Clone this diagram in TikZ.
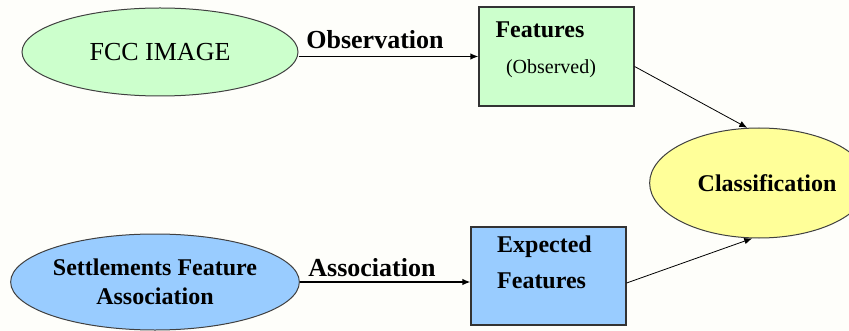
\documentclass[tikz,border=0pt]{standalone}
\usepackage{fontspec}
\setmainfont{LiberationSerif}[Extension=.ttf,UprightFont=*-Regular,BoldFont=*-Bold,ItalicFont=*-Italic,BoldItalicFont=*-BoldItalic]
\usetikzlibrary{shapes.geometric,arrows.meta}
\definecolor{bgcol}{RGB}{254,254,250}
\definecolor{greenfill}{RGB}{204,255,204}
\definecolor{bluefill}{RGB}{153,204,255}
\definecolor{yellowfill}{RGB}{255,255,153}

\begin{document}
\begin{tikzpicture}[x=0.5pt,y=-0.5pt,
	oval/.style={ellipse,draw=black!75,line width=0.5pt,inner sep=0pt,align=center},
	box/.style={rectangle,draw=black!80,line width=0.6pt,inner sep=0pt,minimum width=77.5pt,minimum height=49.5pt},
	lbl/.style={inner sep=0pt,font=\fontsize{13}{15}\selectfont\bfseries},
	txt/.style={inner sep=0pt,font=\fontsize{12}{14}\selectfont\bfseries},
	arr/.style={-{Latex[length=4pt,width=3.2pt]},line width=0.6pt},
	thin arr/.style={-{Latex[length=4pt,width=3.2pt]},line width=0.4pt}]
	\fill[bgcol] (0,0) rectangle (849,331);
	\useasboundingbox (0,0) rectangle (849,331);
	\node[oval,fill=greenfill,minimum width=138pt,minimum height=44pt,font=\fontsize{13}{15}\selectfont] (fcc) at (160,52) {FCC IMAGE};
	\node[oval,fill=bluefill,minimum width=142.5pt,minimum height=48pt,font=\fontsize{12}{14.5}\selectfont\bfseries] (sfa) at (155,282) {Settlements Feature\\Association};
	\node[oval,fill=yellowfill,minimum width=90pt,minimum height=55pt,font=\fontsize{12}{14}\selectfont\bfseries] (cls) at (759,183) {\hspace{8pt}Classification};
	\node[box,fill=greenfill] (feat) at (556.5,56.5) {};
	\node[box,fill=bluefill,minimum height=49pt] (exp) at (548.5,276) {};
	\node[txt] (featname) at (540,30) {Features};
	\node[inner sep=0pt,font=\fontsize{10}{12}\selectfont] (obsd) at (551,69) {(Observed)};
	\node[txt] (expname) at (544.5,247) {Expected};
	\node[txt,anchor=west] (expfeat) at (expname.west |- 0,281) {Features};
	\node[lbl] (obs) at (375,40) {Observation};
	\node[lbl] (asc) at (372,268) {Association};
	\draw[arr] (fcc.east |- feat.west) -- (feat.west);
	\draw[arr] (sfa.east) -- (exp.west |- sfa.east);
	\draw[thin arr] ([yshift=-5pt]feat.east) -- (cls.102);
	\draw[thin arr] ([yshift=-3.5pt]exp.east) -- (cls.263);
\end{tikzpicture}
\end{document}
